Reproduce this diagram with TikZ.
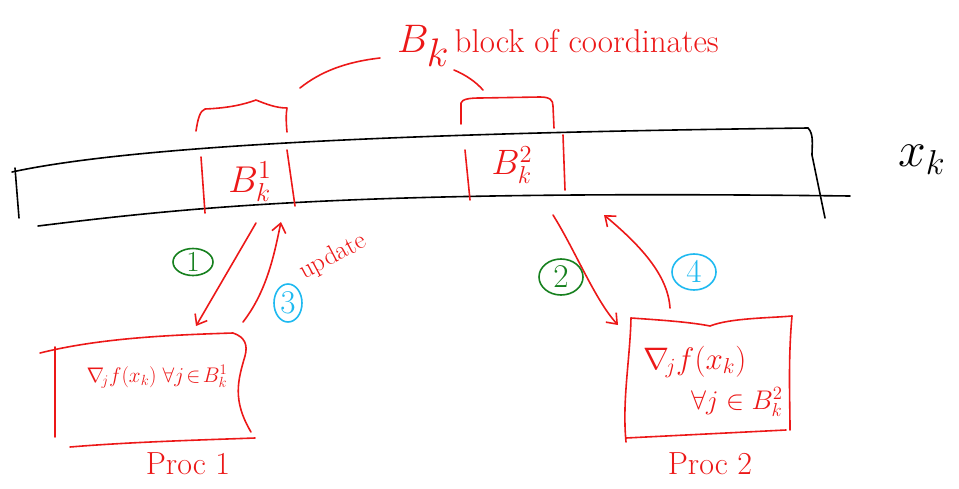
\documentclass[tikz,border=0pt]{standalone}
\usepackage{fontspec}
\usepackage{graphicx}
\usetikzlibrary{arrows.meta,shapes.geometric}
\definecolor{pen}{RGB}{236,24,24}
\definecolor{grn}{RGB}{22,128,30}
\definecolor{cyn}{RGB}{30,185,240}
\newcommand{\sm}[2]{\scalebox{#1}{$#2$}}
\begin{document}
\begin{tikzpicture}[x=1pt,y=-1pt,
  ink/.style={line width=1.6pt,line cap=round,line join=round},
  redink/.style={ink,draw=pen},
  flow/.style={redink,-{Straight Barb[length=9pt,width=14pt,line width=1.6pt]}},
  hand/.style={text=pen,font=\fontsize{20.74}{24}\selectfont,inner sep=1pt},
  stepnum/.style={ellipse,ink,inner sep=0pt,minimum width=40pt,minimum height=27pt,font=\fontsize{20.74}{24}\selectfont},
  greennum/.style={stepnum,draw=grn,text=grn},
  cyannum/.style={stepnum,draw=cyn,text=cyn}]
\useasboundingbox (0,0) rectangle (959,488);
% vector x_k
\draw[ink] (12,172) .. controls (150,142) and (480,132) .. (808,128);
\draw[ink] (38,226) .. controls (200,206) and (360,190) .. (850,196);
\draw[ink] (15,168) -- (19,218);
\draw[ink] (808,128) .. controls (814,134) and (812,145) .. (812,155) -- (825,218);
\node[font=\fontsize{20.74}{24}\selectfont] (xk) at (922,160) {\sm{2.4}{x_k}};
% block dividers
\draw[redink] (201,157) -- (205,213);
\draw[redink] (287,150) -- (295,206);
\draw[redink] (465,150) -- (470,200);
\draw[redink] (563,135) -- (565,190);
\node[hand] (b1) at (250,182) {\sm{1.8}{B_k^{1}}};
\node[hand] (b2) at (512,165) {\sm{1.7}{B_k^{2}}};
% braces
\draw[redink] (196,131) .. controls (198,118) and (200,111) .. (205,109) .. controls (230,108) and (245,104) .. (256,100) .. controls (266,104) and (276,108) .. (287,108) .. controls (286,113) and (286,122) .. (287,132);
\draw[redink] (461,124) -- (461,103) .. controls (462,99) and (470,98) .. (480,98) -- (540,97) .. controls (550,97) and (553,100) .. (553,106) -- (554,128);
% label of blocks
\node[hand,anchor=west,font=\fontsize{33}{36}\selectfont] (blk) at (396,46) {\sm{1.6}{B_k}\,block of coordinates};
\draw[redink] (300,88) .. controls (320,72) and (345,62) .. (380,58);
\draw[redink] (454,70) .. controls (466,75) and (476,82) .. (483,90);
% Proc 1
\draw[redink] (40,353) .. controls (100,338) and (170,335) .. (233,333) .. controls (245,337) and (248,345) .. (245,356) .. controls (238,380) and (232,400) .. (251,432);
\draw[redink] (55,347) -- (55,437);
\draw[redink] (70,447) .. controls (130,442) and (200,440) .. (255,438);
\node[hand] (g1) at (157,377) {\sm{1.02}{\nabla_{\!j} f(x_k)\;\forall j\!\in\! B_k^{1}}};
\node[hand,font=\fontsize{32}{36}\selectfont] (p1) at (188,464) {Proc 1};
% Proc 2
\draw[redink] (631,318) .. controls (660,320) and (690,322) .. (710,326) .. controls (730,318) and (770,318) .. (792,316);
\draw[redink] (631,318) .. controls (630,360) and (622,400) .. (626,442);
\draw[redink] (792,316) .. controls (788,360) and (790,400) .. (790,430);
\draw[redink] (626,438) -- (786,430);
\node[hand,anchor=west] (g2) at (642,362) {\sm{1.5}{\nabla_{\!j} f(x_k)}};
\node[hand,anchor=west] (g2b) at (690,402) {\sm{1.3}{\forall j\in B_k^{2}}};
\node[hand,font=\fontsize{32}{36}\selectfont] (p2) at (710,464) {Proc 2};
% arrows, left
\coordinate (a1s) at (256,223);
\coordinate (a1e) at (196,326);
\coordinate (a3s) at (243,322);
\coordinate (a3e) at (281,222);
\draw[flow] (a1s) -- (a1e);
\draw[flow] (a3s) .. controls (268,290) and (275,250) .. (a3e);
\node[greennum] (n1) at (193,262) {\sm{1.4}{1}};
\node[cyannum,minimum width=28pt,minimum height=38pt] (n3) at (288,303) {\sm{1.6}{3}};
\node[hand,rotate=28,font=\fontsize{26}{30}\selectfont] (upd) at (333,257) {update};
% arrows, right
\coordinate (a2s) at (553,215);
\coordinate (a2e) at (618,325);
\coordinate (a4s) at (670,308);
\coordinate (a4e) at (604,215);
\draw[flow] (a2s) .. controls (575,250) and (595,300) .. (a2e);
\draw[flow] (a4s) .. controls (668,275) and (640,245) .. (a4e);
\node[greennum,minimum width=44pt,minimum height=36pt] (n2) at (561,277) {\sm{1.6}{2}};
\node[cyannum,minimum width=44pt,minimum height=36pt] (n4) at (694,272) {\sm{1.6}{4}};
\end{tikzpicture}
\end{document}
